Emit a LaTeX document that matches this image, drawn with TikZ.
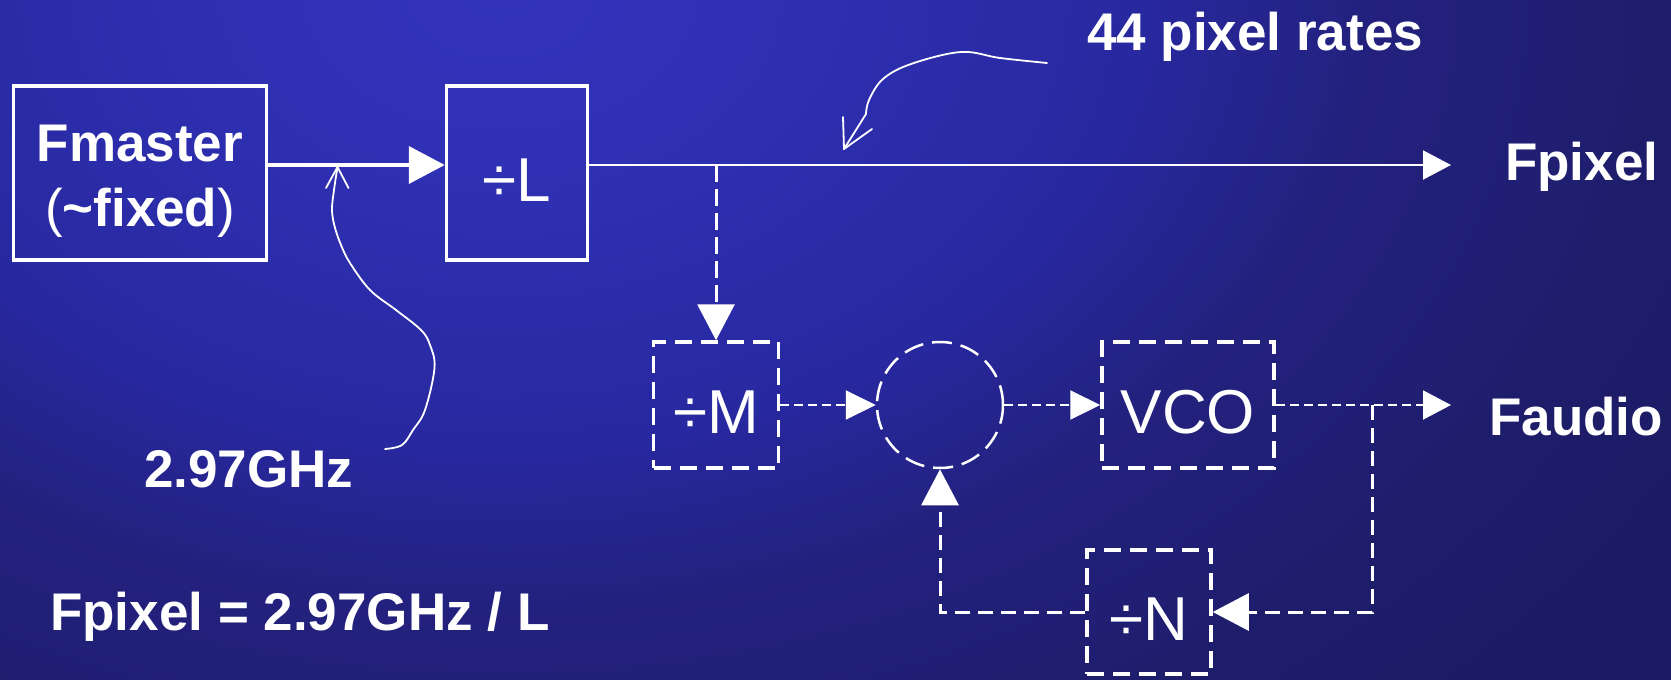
\documentclass[tikz,border=0pt]{standalone}
\usepackage{fontspec}
\setmainfont{Liberation Sans}
\usetikzlibrary{arrows.meta}
\definecolor{bgA}{HTML}{3333BE}
\definecolor{bgB}{HTML}{2E2FB0}
\definecolor{bgC}{HTML}{2828A0}
\definecolor{bgD}{HTML}{23217E}
\definecolor{bgE}{HTML}{201F74}
\definecolor{bgF}{HTML}{1E1D6A}
\definecolor{bgG}{HTML}{1C1A63}
\definecolor{bgH}{HTML}{1B1960}
\pgfdeclareradialshading{bgshade}{\pgfpoint{0bp}{0bp}}{color(0bp)=(bgA); color(5bp)=(bgB); color(10bp)=(bgC); color(13.5bp)=(bgD); color(16.5bp)=(bgE); color(18.5bp)=(bgF); color(23.5bp)=(bgG); color(25bp)=(bgH); color(50bp)=(bgH)}
\newcommand\lblfont{\fontsize{53}{65}\selectfont\bfseries}
\newcommand\boxfont{\fontsize{62}{70}\selectfont}
\begin{document}
\begin{tikzpicture}[x=1pt,y=-1pt,
  sbox/.style={draw=white, line width=3.5pt, inner sep=0pt, text=white},
  dbox/.style={draw=white, line width=3.5pt, dash pattern=on 17pt off 9pt, inner sep=0pt,
    text=white, font=\boxfont, text height=56pt, text depth=0pt},
  lbl/.style={text=white, inner sep=0pt, font=\lblfont, anchor=base west},
  sdash/.style={white, line width=2pt, dash pattern=on 9pt off 5pt},
  ldash/.style={white, line width=3pt, dash pattern=on 15pt off 8pt},
  annot/.style={white, line width=1.8pt, line cap=round, line join=round},
  bigtip/.style={-{Triangle[length=36pt,width=37pt]}},
  midtip/.style={-{Triangle[length=30pt,width=29pt]}},
  smalltip/.style={-{Triangle[length=28pt,width=29pt]}}]
\useasboundingbox (0,0) rectangle (1671,680);
\begin{scope}
  \clip (0,0) rectangle (1671,680);
  \fill[bgH, overlay] (0,0) rectangle (1671,680);
  \shade[shading=bgshade, overlay] (500,-10) ellipse[x radius=1600pt, y radius=1143pt];
\end{scope}

% solid part
\node[sbox, minimum width=253pt, minimum height=174pt] (fm) at (140,173) {};
\node[text=white, inner sep=0pt, align=center, font=\lblfont] (fmtext) at (140,181)
  {Fmaster\\{\mdseries(}\textasciitilde fixed{\mdseries)}};
\node[sbox, minimum width=141pt, minimum height=174pt, font=\boxfont,
  text height=56pt, text depth=0pt] (divL) at (517,173) {÷L};
\coordinate (fpxtip) at (1451,165);
\coordinate (tap) at (716,165);
\draw[white, line width=4pt, bigtip] ([yshift=8pt]fm.east) -- ([yshift=8pt]divL.west);
\draw[white, line width=2pt, smalltip] ([yshift=8pt]divL.east) -- (fpxtip);

% dashed part
\node[dbox, minimum width=125pt, minimum height=126pt] (divM) at (716,405) {÷M};
\node[draw=white, line width=2.5pt, dash pattern=on 20pt off 9pt, circle,
  minimum size=126pt, inner sep=0pt] (circ) at (940,405) {};
\node[dbox, minimum width=172pt, minimum height=126pt] (vco) at (1188,405) {VCO};
\node[dbox, minimum width=124pt, minimum height=124pt] (divN) at (1149,612) {÷N};
\coordinate (fau) at (1451,405);
\coordinate (br) at (1372,405);

\draw[ldash, line width=3pt, dash pattern=on 17pt off 7pt, bigtip] (tap) -- (divM.north);
\draw[sdash, midtip] (divM.east) -- (circ.west);
\draw[sdash, midtip] (circ.east) -- (vco.west);
\draw[sdash, smalltip] (vco.east) -- (fau);
\draw[ldash, bigtip] (br) |- (divN.east);
\draw[ldash, bigtip] (divN.west) -| (circ.south);

% labels
\node[lbl] (fpixel) at (1505,180) {Fpixel};
\node[lbl] (faudio) at (1489,435) {Faudio};
\node[lbl] (rates) at (1087,50) {44 pixel rates};
\node[lbl] (ghz) at (144,487) {2.97GHz};
\node[lbl] (eq) at (50,630) {Fpixel = 2.97GHz / L};

% hand-drawn pointers
\draw[annot] plot[smooth, tension=0.6] coordinates {(1047,63) (1000,58) (961,52) (911,64) (883,79) (869,100) (866,114)} -- (844,149);
\coordinate (t1) at (844,149);
\draw[annot] (t1) -- (843,117);
\draw[annot] (t1) -- (872,129);
\draw[annot] plot[smooth, tension=0.6] coordinates {(385,449) (402,445) (413,430) (425,410) (434.5,368) (430,345) (421,330) (396,310) (370,290) (350,263) (341,245) (334.7,226.7) (332,210) (334,190) (337.5,167)};
\coordinate (t2) at (337.5,167);
\draw[annot] (t2) -- (326,188);
\draw[annot] (t2) -- (348.5,188);
\end{tikzpicture}
\end{document}
